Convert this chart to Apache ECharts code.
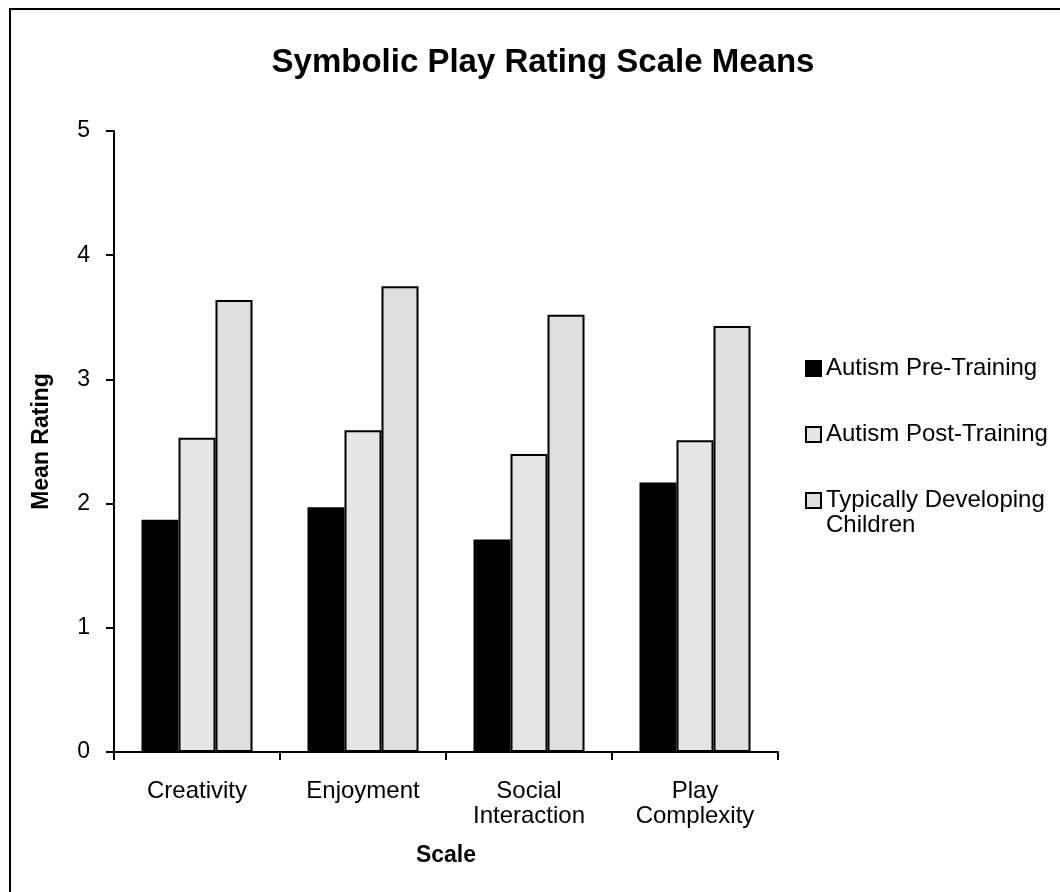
<!DOCTYPE html>
<html>
<head>
<meta charset="utf-8">
<script src="https://cdn.jsdelivr.net/npm/echarts@6/dist/echarts.min.js"></script>
<style>
  html, body { margin: 0; padding: 0; background: #fff; }
  #myChart { width: 1060px; height: 892px; }
</style>
</head>
<body>
<div id="myChart"></div>
<script>
// data
const categories = ["Creativity", "Enjoyment", "Social\nInteraction", "Play\nComplexity"];
const seriesNames = ["Autism Pre-Training", "Autism Post-Training", "Typically Developing Children"];
const preTraining = [1.87, 1.97, 1.71, 2.17];
const postTraining = [2.53, 2.59, 2.40, 2.51];
const typicalKids = [3.64, 3.75, 3.52, 3.43];
const yTicks = [0, 1, 2, 3, 4, 5];

const font = "Liberation Sans, Arial, sans-serif";

function initChart() {
  const myChart = echarts.init(document.getElementById("myChart"));
  myChart.clear();

  const barStyle = function(color) {
    return { color: color, borderColor: "#000", borderWidth: 2 };
  };

  const options = {
    animation: false,
    textStyle: { fontFamily: font },
    title: {
      text: "Symbolic Play Rating Scale Means",
      left: 538,
      top: 41,
      textAlign: "center",
      textStyle: { fontFamily: font, fontSize: 33, fontWeight: "bold", color: "#000" }
    },
    graphic: [
      {
        type: "rect",
        shape: { x: 10, y: 9, width: 1200, height: 1000 },
        style: { fill: "none", stroke: "#000", lineWidth: 2 },
        silent: true
      }
    ],
    legend: [
      {
        orient: "vertical",
        left: 800,
        top: 350,
        itemWidth: 15,
        itemHeight: 15,
        itemGap: 39,
        icon: "rect",
        itemStyle: { borderColor: "#000", borderWidth: 2 },
        textStyle: { fontFamily: font, fontSize: 24, color: "#000", lineHeight: 27 },
        data: seriesNames.slice(0, 2)
      },
      {
        // empty first line keeps the swatch level with "Typically Developing"
        orient: "vertical",
        left: 800,
        top: 458,
        itemWidth: 15,
        itemHeight: 15,
        icon: "rect",
        itemStyle: { borderColor: "#000", borderWidth: 2 },
        formatter: function(name) {
          return name === seriesNames[2] ? " \nTypically Developing\nChildren" : name;
        },
        textStyle: { fontFamily: font, fontSize: 24, color: "#000", lineHeight: 25 },
        data: [seriesNames[2]]
      }
    ],
    grid: {
      left: 114,
      right: 282,
      top: 131,
      bottom: 140,
      containLabel: false
    },
    xAxis: {
      type: "category",
      data: categories,
      name: "Scale",
      nameLocation: "middle",
      nameGap: 92,
      nameTextStyle: { fontFamily: font, fontSize: 23, fontWeight: "bold", color: "#000" },
      axisLine: { lineStyle: { color: "#000", width: 2 } },
      axisTick: { show: true, length: 8, lineStyle: { color: "#000", width: 2 } },
      axisLabel: { fontFamily: font, fontSize: 24, color: "#000", margin: 27, lineHeight: 25 },
      splitLine: { show: false }
    },
    yAxis: {
      type: "value",
      min: yTicks[0],
      max: yTicks[yTicks.length - 1],
      interval: 1,
      name: "Mean Rating",
      nameLocation: "middle",
      nameRotate: 90,
      nameGap: 61,
      nameTextStyle: { fontFamily: font, fontSize: 23, fontWeight: "bold", color: "#000" },
      axisLine: { show: true, lineStyle: { color: "#000", width: 2 } },
      axisTick: { show: true, length: 8, lineStyle: { color: "#000", width: 2 } },
      axisLabel: { fontFamily: font, fontSize: 23, color: "#000", margin: 24 },
      splitLine: { show: false }
    },
    series: [
      {
        name: seriesNames[0],
        type: "bar",
        data: preTraining,
        barWidth: 37,
        barGap: "0%",
        itemStyle: barStyle("#000000")
      },
      {
        name: seriesNames[1],
        type: "bar",
        data: postTraining,
        barWidth: 37,
        barGap: "0%",
        itemStyle: barStyle("#e6e6e6")
      },
      {
        name: seriesNames[2],
        type: "bar",
        data: typicalKids,
        barWidth: 37,
        barGap: "0%",
        itemStyle: barStyle("#dedede")
      }
    ]
  };

  myChart.setOption(options);
}

initChart();
</script>
</body>
</html>
